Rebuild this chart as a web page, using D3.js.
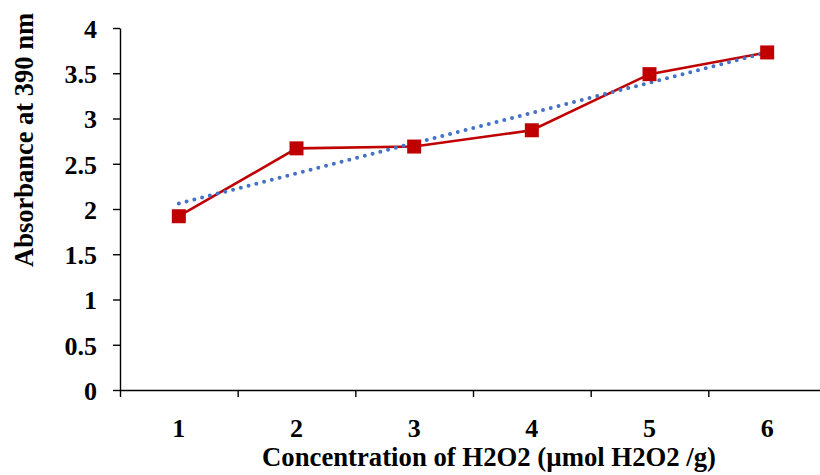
<!DOCTYPE html>
<html>
<head>
<meta charset="utf-8">
<script src="https://cdn.jsdelivr.net/npm/d3@7"></script>
<style>
  body { margin: 0; background: #fff; }
  svg { display: block; }
</style>
</head>
<body>
<div id="chart"></div>
<script>
// data
var concentration = [1, 2, 3, 4, 5, 6];
var absorbance = [1.92, 2.67, 2.69, 2.87, 3.49, 3.73];
var yTicks = [0, 0.5, 1, 1.5, 2, 2.5, 3, 3.5, 4];

var width = 820, height = 475;
var margin = { top: 28, left: 120, bottom: 85 };
var plotRight = 826;
var serif = "'Liberation Serif', 'Times New Roman', Times, serif";

var svg = d3.select("#chart")
  .append("svg")
  .attr("width", width)
  .attr("height", height)
  .attr("font-family", serif)
  .attr("font-weight", "bold");

var x = d3.scaleLinear().domain([0.5, 6.5]).range([margin.left, plotRight]);
var y = d3.scaleLinear().domain([0, 4]).range([height - margin.bottom, margin.top]);

//Linear trendline (least squares) of the series
var mx = d3.mean(concentration), my = d3.mean(absorbance);
var sxy = d3.sum(concentration, function(d, i) { return (d - mx) * (absorbance[i] - my); });
var sxx = d3.sum(concentration, function(d) { return (d - mx) * (d - mx); });
var slope = sxy / sxx, intercept = my - slope * mx;
var trend = [concentration[0], concentration[concentration.length - 1]].map(function(d) {
  return [d, intercept + slope * d];
});

//Y axis
var yAxis = svg.append("g")
  .attr("transform", "translate(" + margin.left + ",0)")
  .call(d3.axisLeft(y).tickValues(yTicks).tickSize(7).tickSizeOuter(0).tickFormat(d3.format("")));
yAxis.attr("font-family", serif).attr("font-size", null);
yAxis.selectAll("text")
  .attr("x", -23).attr("dy", "0.36em")
  .attr("fill", "#000")
  .style("font-family", serif)
  .style("font-weight", "bold")
  .style("font-size", "26px");

//X axis, ticks on the category boundaries
var boundaries = d3.range(0.5, 6.5, 1);
svg.append("g")
  .attr("transform", "translate(0," + y(0) + ")")
  .call(d3.axisBottom(x).tickValues(boundaries).tickSize(7).tickSizeOuter(0).tickFormat(""));

svg.selectAll(".domain, .tick line").attr("stroke", "#000").attr("stroke-width", 1.4);

svg.append("g").selectAll("text")
  .data(concentration)
  .enter()
  .append("text")
  .attr("x", function(d) { return x(d); })
  .attr("y", 437)
  .attr("text-anchor", "middle")
  .style("font-family", serif)
  .style("font-size", "26px")
  .text(function(d) { return d; });

//Axis titles
svg.append("text")
  .attr("x", 489)
  .attr("y", 466)
  .attr("text-anchor", "middle")
  .attr("textLength", 454)
  .attr("lengthAdjust", "spacingAndGlyphs")
  .style("font-family", serif)
  .style("font-size", "27px")
  .text("Concentration of H2O2 (µmol H2O2 /g)");

svg.append("text")
  .attr("transform", "translate(33,140) rotate(-90)")
  .attr("text-anchor", "middle")
  .attr("textLength", 254)
  .attr("lengthAdjust", "spacingAndGlyphs")
  .style("font-family", serif)
  .style("font-size", "27px")
  .text("Absorbance at 390 nm");

//Data line and markers
var line = d3.line()
  .x(function(d) { return x(d[0]); })
  .y(function(d) { return y(d[1]); });

var points = concentration.map(function(d, i) { return [d, absorbance[i]]; });

svg.append("path")
  .datum(points)
  .attr("d", line)
  .attr("fill", "none")
  .attr("stroke", "#C00000")
  .attr("stroke-width", 2.6);

svg.append("path")
  .datum(trend)
  .attr("d", line)
  .attr("fill", "none")
  .attr("stroke", "#4472C4")
  .attr("stroke-width", 4)
  .attr("stroke-linecap", "round")
  .attr("stroke-dasharray", "0,8");

svg.append("g").selectAll("rect")
  .data(points)
  .enter()
  .append("rect")
  .attr("x", function(d) { return x(d[0]) - 7; })
  .attr("y", function(d) { return y(d[1]) - 7; })
  .attr("width", 14)
  .attr("height", 14)
  .attr("fill", "#C00000");
</script>
</body>
</html>
